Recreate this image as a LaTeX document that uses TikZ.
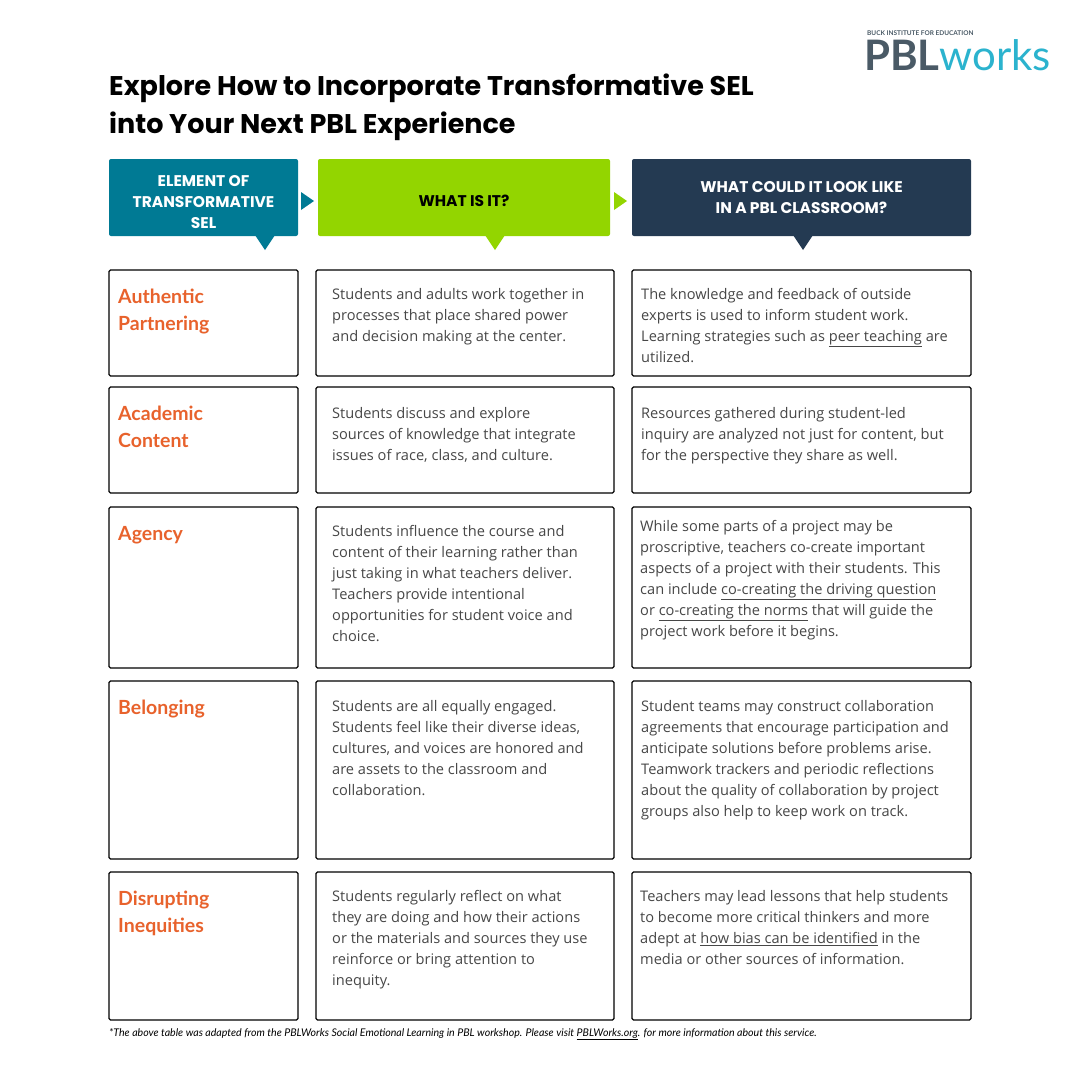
\documentclass[tikz,border=0pt]{standalone}
\usepackage{fontspec}
\setmainfont{Open Sans}
\newfontfamily\ttl{Poppins}
\newfontfamily\hdr{Lato}
\newfontfamily\lgo{Lato}
\definecolor{teal}{HTML}{007A94}
\definecolor{lime}{HTML}{93D500}
\definecolor{navy}{HTML}{243A52}
\definecolor{orng}{HTML}{E8622C}
\definecolor{txt}{HTML}{474747}
\definecolor{lgray}{HTML}{4A5A66}
\definecolor{lblue}{HTML}{2BB3CE}
\tikzset{x=1pt,y=-1pt,
 cell/.style={draw=black,line width=1.2pt,rounded corners=1.5pt},
 body/.style={anchor=north west,align=left,text=txt,font=\fontsize{14.6}{21}\selectfont,inner sep=0pt},
 rowt/.style={anchor=north west,align=left,text=orng,font=\hdr\bfseries\fontsize{19.5}{27}\selectfont,inner sep=0pt},
 head/.style={align=center,font=\ttl\bfseries\fontsize{15.5}{21}\selectfont,inner sep=0pt}}
\newcommand{\ul}[1]{\underline{#1}}
\begin{document}
\begin{tikzpicture}
\useasboundingbox[fill=white] (0,0) rectangle (1080,1080);
% logo
\node[anchor=west,inner sep=0pt,text=lgray,font=\hdr\bfseries\fontsize{6.5}{7}\selectfont] (lsub) at (867,33) {BUCK INSTITUTE FOR EDUCATION};
\node[anchor=west,inner sep=0pt,font=\lgo\fontsize{42}{42}\selectfont] (logo) at (864,55) {\textcolor{lgray}{\bfseries PBL}\textcolor{lblue}{works}};
% title
\node[anchor=north west,inner sep=0pt,align=left,font=\ttl\bfseries\fontsize{27}{38}\selectfont,text=black] (title) at (109,74) {Explore How to Incorporate Transformative SEL\\into Your Next PBL Experience};
% headers
\fill[teal,rounded corners=2pt] (109,159) rectangle (298,236);
\fill[teal] (255,235) -- (275,235) -- (265,250) -- cycle;
\fill[teal] (301,192) -- (314,201) -- (301,210) -- cycle;
\node[head,text=white] (h1) at (203.5,202) {ELEMENT OF\\TRANSFORMATIVE\\SEL};
\fill[lime,rounded corners=2pt] (318,159) rectangle (610,236);
\fill[lime] (485,235) -- (505,235) -- (495,250) -- cycle;
\fill[lime] (614,192) -- (627,201) -- (614,210) -- cycle;
\node[head,text=black] (h2) at (464,201) {WHAT IS IT?};
\fill[navy,rounded corners=2pt] (632,159) rectangle (971,236);
\fill[navy] (793,235) -- (813,235) -- (803,250) -- cycle;
\node[head,text=white] (h3) at (801.5,198) {WHAT COULD IT LOOK LIKE\\IN A PBL CLASSROOM?};
% rows
\foreach \a/\b in {270/376,387/493,507/668,681/859,872/1020}{
 \draw[cell] (109,\a) rectangle (298,\b);
 \draw[cell] (316,\a) rectangle (614,\b);
 \draw[cell] (632,\a) rectangle (971,\b);
}
\node[rowt] (r1) at (118,289) {Authentic\\Partnering};
\node[rowt] (r2) at (118,406) {Academic\\Content};
\node[rowt] (r3) at (118,526) {Agency};
\node[rowt] (r4) at (118,700) {Belonging};
\node[rowt] (r5) at (118,891) {Disrupting\\Inequities};
\node[body] (a1) at (332,288) {Students and adults work together in\\processes that place shared power\\and decision making at the center.};
\node[body] (b1) at (641,288) {The knowledge and feedback of outside\\experts is used to inform student work.\\Learning strategies such as \ul{peer teaching} are\\utilized.};
\node[body] (a2) at (332,407) {Students discuss and explore\\sources of knowledge that integrate\\issues of race, class, and culture.};
\node[body] (b2) at (641,407) {Resources gathered during student-led\\inquiry are analyzed not just for content, but\\for the perspective they share as well.};
\node[body] (a3) at (332,525) {Students influence the course and\\content of their learning rather than\\just taking in what teachers deliver.\\Teachers provide intentional\\opportunities for student voice and\\choice.};
\node[body] (b3) at (640,520) {While some parts of a project may be\\proscriptive, teachers co-create important\\aspects of a project with their students. This\\can include \ul{co-creating the driving question}\\or \ul{co-creating the norms} that will guide the\\project work before it begins.};
\node[body] (a4) at (332,700) {Students are all equally engaged.\\Students feel like their diverse ideas,\\cultures, and voices are honored and\\are assets to the classroom and\\collaboration.};
\node[body] (b4) at (641,700) {Student teams may construct collaboration\\agreements that encourage participation and\\anticipate solutions before problems arise.\\Teamwork trackers and periodic reflections\\about the quality of collaboration by project\\groups also help to keep work on track.};
\node[body] (a5) at (332,890) {Students regularly reflect on what\\they are doing and how their actions\\or the materials and sources they use\\reinforce or bring attention to\\inequity.};
\node[body] (b5) at (640,890) {Teachers may lead lessons that help students\\to become more critical thinkers and more\\adept at \ul{how bias can be identified} in the\\media or other sources of information.};
\node[anchor=west,inner sep=0pt,font=\hdr\itshape\fontsize{10.6}{12}\selectfont,text=black] (foot) at (109,1034) {*The above table was adapted from the PBLWorks Social Emotional Learning in PBL workshop. Please visit \ul{PBLWorks.org}. for more information about this service.};
\end{tikzpicture}
\end{document}
